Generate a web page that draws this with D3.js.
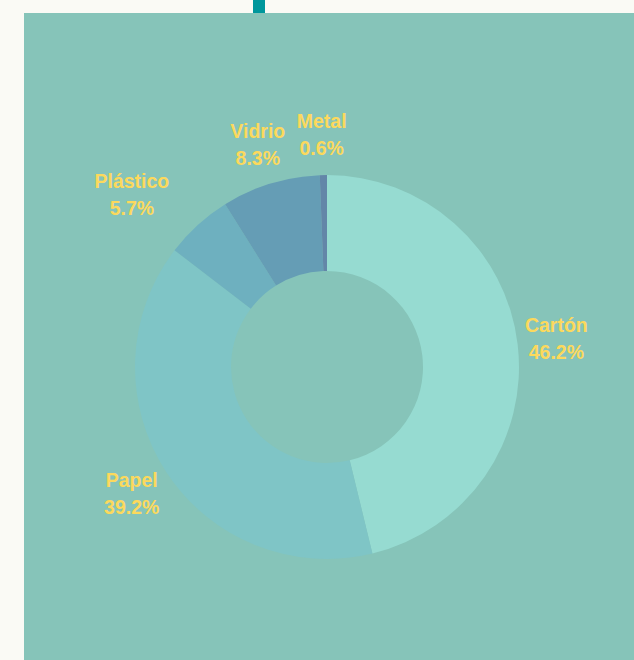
<!DOCTYPE html>
<html>
<head>
<meta charset="utf-8">
<script src="https://cdn.jsdelivr.net/npm/d3@7"></script>
<style>
  body { margin: 0; background: #fafaf5; }
  svg { display: block; }
</style>
</head>
<body>
<div id="chart"></div>
<script>
// materials and share of the total (%)
const materials = ["Cartón", "Papel", "Plástico", "Vidrio", "Metal"];
const shares = [46.2, 39.2, 5.7, 8.3, 0.6];
const sliceColors = ["#96dbd1", "#7fc5c6", "#6eb0bf", "#659db5", "#6386a8"];

const width = 634;
const height = 660;
const cx = 327, cy = 367;
const outerR = 192, innerR = 96;
const labelR = 232;
// small push to keep the Plástico label clear of its neighbour
const labelNudge = {"Plástico": -38};

const svg = d3.select("#chart").append("svg")
  .attr("width", width)
  .attr("height", height);

// panel
svg.append("rect")
  .attr("x", 24).attr("y", 13)
  .attr("width", width - 24).attr("height", height - 13)
  .attr("fill", "#86c4b9");

// little marker on top
svg.append("rect")
  .attr("x", 253).attr("y", 0)
  .attr("width", 12).attr("height", 13)
  .attr("fill", "#00979c");

const data = materials.map((m, i) => ({name: m, value: shares[i], color: sliceColors[i]}));

const pie = d3.pie()
  .sort(null)
  .value(d => d.value);

const arc = d3.arc()
  .innerRadius(innerR)
  .outerRadius(outerR);

const labelArc = d3.arc()
  .innerRadius(labelR)
  .outerRadius(labelR);

const g = svg.append("g")
  .attr("transform", `translate(${cx},${cy})`);

const arcs = pie(data);

g.selectAll("path")
  .data(arcs)
  .enter()
  .append("path")
  .attr("d", arc)
  .attr("fill", d => d.data.color);

const labels = g.selectAll("text")
  .data(arcs)
  .enter()
  .append("text")
  .attr("transform", d => {
    const [x, y] = labelArc.centroid(d);
    return `translate(${x + (labelNudge[d.data.name] || 0) - 1},${y})`;
  })
  .attr("text-anchor", "middle")
  .style("font-family", "'Liberation Sans', Arial, sans-serif")
  .style("font-weight", "bold")
  .style("font-size", "19.5px")
  .attr("fill", "#fcd95c");

labels.append("tspan")
  .attr("x", 0)
  .attr("y", -7)
  .text(d => d.data.name);

labels.append("tspan")
  .attr("x", 0)
  .attr("y", 20)
  .text(d => d3.format(".1f")(d.data.value) + "%");
</script>
</body>
</html>
